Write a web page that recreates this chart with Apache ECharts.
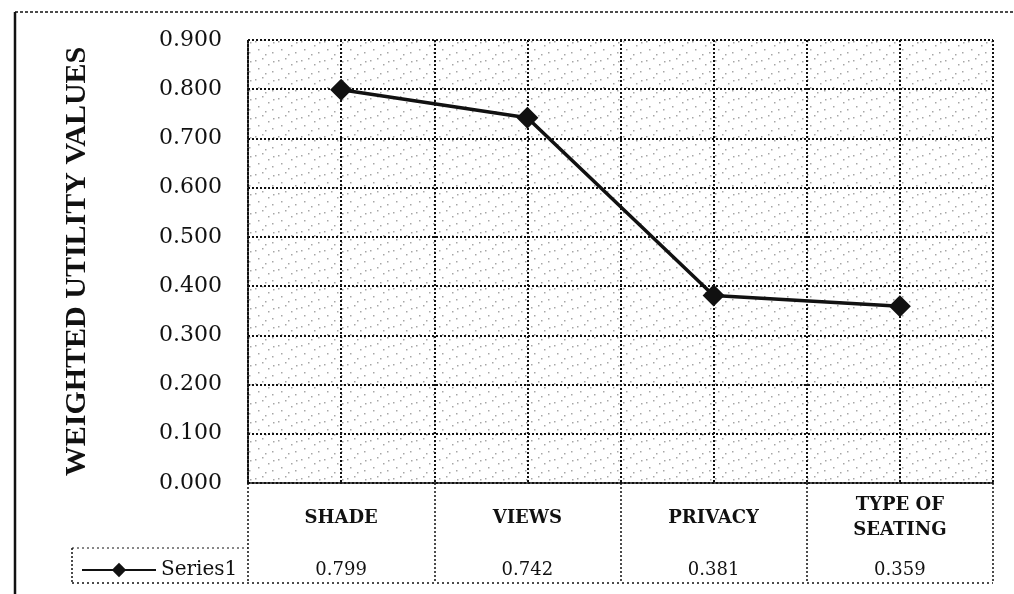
<!DOCTYPE html>
<html>
<head>
<meta charset="utf-8">
<script src="https://cdn.jsdelivr.net/npm/echarts@6/dist/echarts.min.js"></script>
<style>
  html, body { margin: 0; padding: 0; background: #fff; }
  #chart { width: 1014px; height: 594px; }
</style>
</head>
<body>
<div id="chart"></div>
<script>
const categories = ['SHADE', 'VIEWS', 'PRIVACY', 'TYPE OF\nSEATING']
const values = [0.799, 0.742, 0.381, 0.359]
const seriesName = 'Series1'
const yTicks = { min: 0, max: 0.9, step: 0.1 }
const yTitle = 'WEIGHTED UTILITY VALUES'

const serif = '"DejaVu Serif", "Liberation Serif", serif'
const ink = '#111'
const dotted = { color: ink, width: 2, type: [2, 2] }

// light speckle texture to suggest the scanned plot area
const speck = document.createElement('canvas')
speck.width = 23; speck.height = 19
const sctx = speck.getContext('2d')
sctx.fillStyle = 'rgba(0,0,0,0.35)'
;[[2, 3], [9, 1], [15, 7], [5, 11], [19, 14], [12, 16], [20, 4]].forEach(([x, y]) => sctx.fillRect(x, y, 1.5, 1.5))

const chart = echarts.init(document.getElementById('chart'))

chart.setOption({
  animation: false,
  backgroundColor: '#fff',
  grid: {
    left: 248, right: 21, top: 40, bottom: 111,
    show: true, borderWidth: 0,
    backgroundColor: { image: speck, repeat: 'repeat' }
  },
  legend: {
    left: 76, top: 555,
    itemWidth: 74, itemHeight: 18,
    itemGap: 2,
    textStyle: { fontFamily: serif, fontSize: 20, color: ink },
    data: [seriesName]
  },
  xAxis: [
    {
      type: 'category',
      data: categories,
      boundaryGap: true,
      axisLine: { lineStyle: dotted },
      axisTick: { show: true, interval: 0, length: 100, lineStyle: { color: ink, width: 1.5, type: [2, 2] } },
      axisLabel: {
        interval: 0, margin: 35, verticalAlign: 'middle',
        fontFamily: serif, fontSize: 18, fontWeight: 'bold', color: ink, lineHeight: 25
      },
      splitLine: { show: false }
    },
    {
      type: 'category',
      position: 'bottom',
      data: values.map(v => v.toFixed(3)),
      axisLine: { show: false },
      axisTick: { show: false },
      axisLabel: { interval: 0, margin: 87, verticalAlign: 'middle', fontFamily: serif, fontSize: 18, color: ink }
    },
    {
      type: 'value',
      min: 0, max: 8, interval: 1,
      show: true,
      axisLine: { show: false },
      axisTick: { show: false },
      axisLabel: { show: false },
      splitLine: { show: true, lineStyle: dotted }
    }
  ],
  yAxis: {
    type: 'value',
    min: yTicks.min, max: yTicks.max, interval: yTicks.step,
    name: yTitle,
    nameLocation: 'middle',
    nameGap: 156,
    nameTextStyle: { fontFamily: '"Liberation Serif", serif', fontSize: 30, fontWeight: 'bold', color: ink },
    axisLine: { show: true, lineStyle: dotted },
    axisTick: { show: false },
    axisLabel: {
      margin: 26, fontFamily: serif, fontSize: 22, color: ink,
      formatter: v => v.toFixed(3)
    },
    splitLine: { show: true, lineStyle: dotted }
  },
  series: [{
    name: seriesName,
    type: 'line',
    data: values,
    symbol: 'diamond',
    symbolSize: 22,
    itemStyle: { color: ink },
    lineStyle: { color: ink, width: 3.5 }
  }],
  graphic: [
    // outer frame
    { type: 'line', shape: { x1: 15, y1: 12, x2: 15, y2: 594 }, style: { stroke: ink, lineWidth: 2.5 } },
    { type: 'line', shape: { x1: 15, y1: 12, x2: 1014, y2: 12 }, style: { stroke: ink, lineWidth: 1.5, lineDash: [3, 2] } },
    // data table bottom and legend cell
    { type: 'line', shape: { x1: 72, y1: 583, x2: 993, y2: 583 }, style: { stroke: ink, lineWidth: 1.5, lineDash: [2, 3] } },
    { type: 'line', shape: { x1: 72, y1: 548, x2: 248, y2: 548 }, style: { stroke: ink, lineWidth: 1, lineDash: [2, 3] } },
    { type: 'line', shape: { x1: 72, y1: 548, x2: 72, y2: 583 }, style: { stroke: ink, lineWidth: 1.5, lineDash: [2, 2] } }
  ]
})
</script>
</body>
</html>
